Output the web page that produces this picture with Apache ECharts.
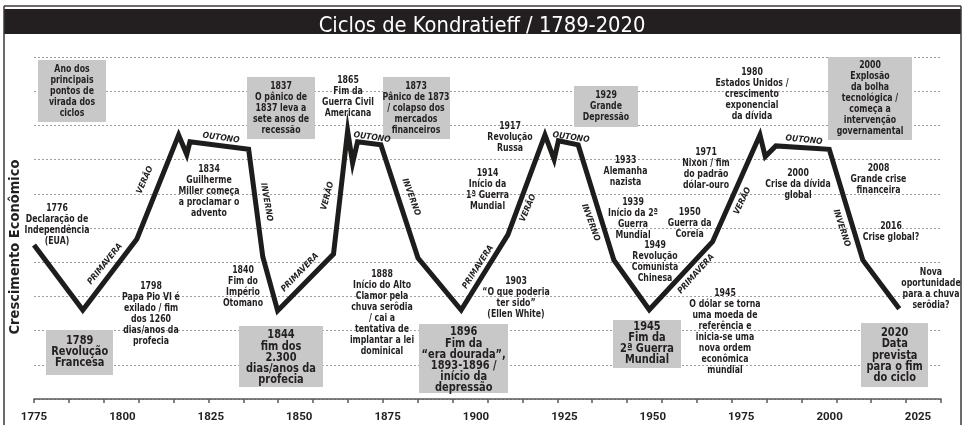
<!DOCTYPE html>
<html><head><meta charset="utf-8">
<script src="https://cdn.jsdelivr.net/npm/echarts@6/dist/echarts.min.js"></script>
<style>html,body{margin:0;padding:0;background:#fff}#c{width:964px;height:425px}</style>
</head><body><div id="c"></div>
<script>
// ---------------- data ----------------
const chartTitle = 'Ciclos de Kondratieff / 1789-2020';
const yAxisName = 'Crescimento Econômico';
const xTickLabels = [1775, 1800, 1825, 1850, 1875, 1900, 1925, 1950, 1975, 2000, 2025];
const years  = [1775, 1788.8, 1804.1, 1815.9, 1818.2, 1819.1, 1835.7, 1839.7, 1843.9,
                1859.7, 1863.7, 1865.1, 1866.5, 1873.1, 1883.6, 1895.8,
                1909.0, 1919.5, 1922.1, 1923.3, 1928.9, 1939.0, 1949.0,
                1966.9, 1980.3, 1981.8, 1984.8, 1999.9, 2009.4, 2019.7];
const growth = [4.50, 2.60, 4.68, 7.72, 7.15, 7.52, 7.30, 4.16, 2.58,
                4.24, 7.84, 6.90, 7.52, 7.43, 4.12, 2.60,
                4.80, 7.72, 7.00, 7.55, 7.43, 4.06, 2.61,
                4.60, 7.72, 7.09, 7.40, 7.30, 4.06, 2.64];
const seasonNames = ['PRIMAVERA', 'VERÃO', 'OUTONO', 'INVERNO'];
const noteTexts = [
 'Ano dos\nprincipais\npontos de\nvirada dos\nciclos',
 '1776\nDeclaração de\nIndependência\n(EUA)',
 '1837\nO pânico de\n1837 leva a\nsete anos de\nrecessão',
 '1834\nGuilherme\nMiller começa\na proclamar o\nadvento',
 '1865\nFim da\nGuerra Civil\nAmericana',
 '1873\nPânico de 1873\n/ colapso dos\nmercados\nfinanceiros',
 '1917\nRevolução\nRussa',
 '1929\nGrande\nDepressão',
 '1914\nInício da\n1ª Guerra\nMundial',
 '1933\nAlemanha\nnazista',
 '1939\nInício da 2ª\nGuerra\nMundial',
 '1949\nRevolução\nComunista\nChinesa',
 '1950\nGuerra da\nCoreia',
 '1971\nNixon / fim\ndo padrão\ndólar-ouro',
 '1980\nEstados Unidos /\ncrescimento\nexponencial\nda dívida',
 '2000\nExplosão\nda bolha\ntecnológica /\ncomeça a\nintervenção\ngovernamental',
 '2000\nCrise da dívida\nglobal',
 '2008\nGrande crise\nfinanceira',
 '2016\nCrise global?',
 'Nova\noportunidade\npara a chuva\nserôdia?',
 '2020\nData\nprevista\npara o fim\ndo ciclo',
 '1945\nO dólar se torna\numa moeda de\nreferência e\ninicia-se uma\nnova ordem\neconômica\nmundial',
 '1945\nFim da\n2ª Guerra\nMundial',
 '1896\nFim da\n“era dourada”,\n1893-1896 /\ninício da\ndepressão',
 '1903\n“O que poderia\nter sido”\n(Ellen White)',
 '1888\nInício do Alto\nClamor pela\nchuva serôdia\n/ cai a\ntentativa de\nimplantar a lei\ndominical',
 '1844\nfim dos\n2.300\ndias/anos da\nprofecia',
 '1840\nFim do\nImpério\nOtomano',
 '1798\nPapa Pio VI é\nexilado / fim\ndos 1260\ndias/anos da\nprofecia',
 '1789\nRevolução\nFrancesa'
];

// ---------------- layout (pixels) ----------------
// [centerX, centerY, bigText, box [x,y,w,h] or null]
const noteLayout = [
 [72,91.7,0,[38,60,68,62]],
 [57,224.5,0,null],
 [281,108,0,[247,77,68,62]],
 [209,191.2,0,null],
 [348,97,0,null],
 [416,108.7,0,[383,77,67,62]],
 [510,137.5,0,null],
 [606,106.4,0,[574,86,64,41]],
 [487.5,190,0,null],
 [625.5,171.7,0,null],
 [633,218.4,0,null],
 [655,261.7,0,null],
 [689.7,223.7,0,null],
 [706,168.9,0,null],
 [752,94.4,0,null],
 [870,97.9,0,[828,57,84,83]],
 [798,184.5,0,null],
 [878.5,179.7,0,null],
 [891,231.7,0,null],
 [931,288.9,0,null],
 [894.7,355.3,1,[861,323,67,64]],
 [725,331.7,0,null],
 [647,343.3,1,[613,320,68,48]],
 [463.7,360,1,[419,324,89,69]],
 [516,297.4,0,null],
 [382,312.4,0,null],
 [281,357.5,1,[239,326,84,61]],
 [243,286.4,0,null],
 [151,313.7,0,null],
 [79.7,351.7,1,[46,330,67,45]]
];
// [centerX, centerY, angleDeg] for season labels, in order P,V,O,I per cycle
const seasonLayout = [
 [105,264,51],[145,180,66],[221,138,-8],[266.5,202,-80],
 [300,272.5,46],[327.5,196,75],[372,137.5,-8],[411,197,-70],
 [478,267,57],[528,208,67],[571,137.5,-8],[590.5,222.5,-70],
 [696,274,48],[742.5,201,65],[804,140,-6],[841.5,228,-72]
];

// ---------------- fonts ----------------
const mctx = document.createElement('canvas').getContext('2d');
function fontOK(f){
  const s = 'Miller começa ABCxyz 1234';
  mctx.font = 'bold 40px monospace'; const a = mctx.measureText(s).width;
  mctx.font = `bold 40px "${f}", monospace`; const b = mctx.measureText(s).width;
  mctx.font = `bold 40px "${f}", serif`; const c = mctx.measureText(s).width;
  return Math.abs(b - c) < 0.01 && Math.abs(a - b) > 0.01;
}
const candidates = ['Liberation Sans Narrow','DejaVu Sans Condensed','Roboto Condensed','Open Sans Condensed','Roboto','Liberation Sans'];
const FONT = candidates.find(fontOK) || 'sans-serif';
const FAM = `"${FONT}", Roboto, sans-serif`;
function tw(text, size, weight, style){
  mctx.font = `${style||'normal'} ${weight} ${size}px ${FAM}`;
  let w = 0; text.split('\n').forEach(l => { w = Math.max(w, mctx.measureText(l).width); });
  return w;
}
const clamp = (v,a,b) => Math.max(a, Math.min(b, v));
const SMALL = 10.5, BIG = 13, SEASON = 8.5;
const sSmall = clamp(61 / tw('Miller começa', SMALL, 'bold'), 0.65, 1.2);
const sBig = clamp(57 / tw('Revolução', BIG, 'bold'), 0.65, 1.2);
const sSeason = clamp(50 / tw('PRIMAVERA', SEASON, 'bold', 'italic'), 0.7, 1.3);
const titleSize = clamp(19 * 327 / tw(chartTitle, 19, 'normal'), 15, 22);
const yNameSize = clamp(14 * 175 / tw(yAxisName, 14, 'bold'), 11, 17);
const INK = '#231f20';

// ---------------- graphic elements ----------------
const graphics = [];
graphics.push({type:'rect', shape:{x:4, y:9, width:957, height:25}, style:{fill:'#231f20'}, z:1, silent:true});
graphics.push({type:'line', shape:{x1:4, y1:6, x2:961, y2:6}, style:{stroke:'#3a3a3a', lineWidth:1.5}, z:1});
graphics.push({type:'line', shape:{x1:4, y1:6, x2:4, y2:425}, style:{stroke:'#3a3a3a', lineWidth:1.5}, z:1});
graphics.push({type:'line', shape:{x1:961, y1:6, x2:961, y2:425}, style:{stroke:'#3a3a3a', lineWidth:1.5}, z:1});

noteTexts.forEach((t, i) => {
  const [cx, cy, big, box] = noteLayout[i];
  if (box) graphics.push({type:'rect', shape:{x:box[0], y:box[1], width:box[2], height:box[3]}, style:{fill:'#c8c8c8'}, z:5});
  const size = big ? BIG : SMALL;
  graphics.push({type:'text', x:cx, y:cy, scaleX: big ? sBig : sSmall, z:20,
    style:{text:t, fill:INK, font:`normal bold ${size}px ${FAM}`,
      align:'center', verticalAlign:'middle', textAlign:'center', textVerticalAlign:'middle',
      lineHeight: big ? 11.2 : 11}});
});
seasonLayout.forEach((p, i) => {
  graphics.push({type:'text', x:p[0], y:p[1], rotation:p[2]*Math.PI/180, scaleX:sSeason, z:20,
    style:{text:seasonNames[i % 4], fill:INK, font:`italic bold ${SEASON}px ${FAM}`,
      align:'center', verticalAlign:'middle', textAlign:'center', textVerticalAlign:'middle'}});
});

// ---------------- chart ----------------
const chart = echarts.init(document.getElementById('c'), null, {renderer:'canvas'});
chart.setOption({
  animation:false,
  backgroundColor:'#ffffff',
  title:{text:chartTitle, left:'center', top:21.5, textVerticalAlign:'middle', z:10,
    textStyle:{color:'#ffffff', fontSize:titleSize, fontWeight:'normal', fontFamily:FAM}},
  grid:{left:33, right:23, top:57, bottom:26, containLabel:false},
  xAxis:[
    {type:'value', min:1775, max:2031.5, interval:25,
     axisLine:{show:true, lineStyle:{color:'#58595b', width:1.5}},
     axisTick:{show:false}, splitLine:{show:false},
     axisLabel:{show:true, showMaxLabel:false, margin:12, fontSize:11.5, fontWeight:'bold', color:INK, fontFamily:'Roboto, sans-serif',
       formatter:v => xTickLabels.includes(v) ? String(v) : ''}},
    {type:'value', min:0, max:26, interval:1, position:'bottom', offset:0,
     axisLine:{show:false}, splitLine:{show:false}, axisLabel:{show:false},
     axisTick:{show:true, inside:false, length:4, lineStyle:{color:'#58595b', width:1.5}}}
  ],
  yAxis:{type:'value', min:0, max:10, interval:1,
    name:yAxisName, nameLocation:'middle', nameRotate:90, nameGap:11,
    nameTextStyle:{fontSize:yNameSize, fontWeight:'bold', color:INK, fontFamily:FAM, padding:[0,38,0,0]},
    axisLine:{show:false}, axisTick:{show:false}, axisLabel:{show:false},
    splitLine:{show:true, lineStyle:{color:'#9d9d9d', width:1, type:[2,2]}}},
  series:[{
    type:'line', xAxisIndex:0, yAxisIndex:0, symbol:'none', smooth:false, z:3,
    data: years.map((y, i) => [y, growth[i]]),
    lineStyle:{color:'#1d1d1b', width:5, join:'miter', miterLimit:10, cap:'butt'}
  }],
  graphic:{elements:graphics}
});
</script>
</body></html>
